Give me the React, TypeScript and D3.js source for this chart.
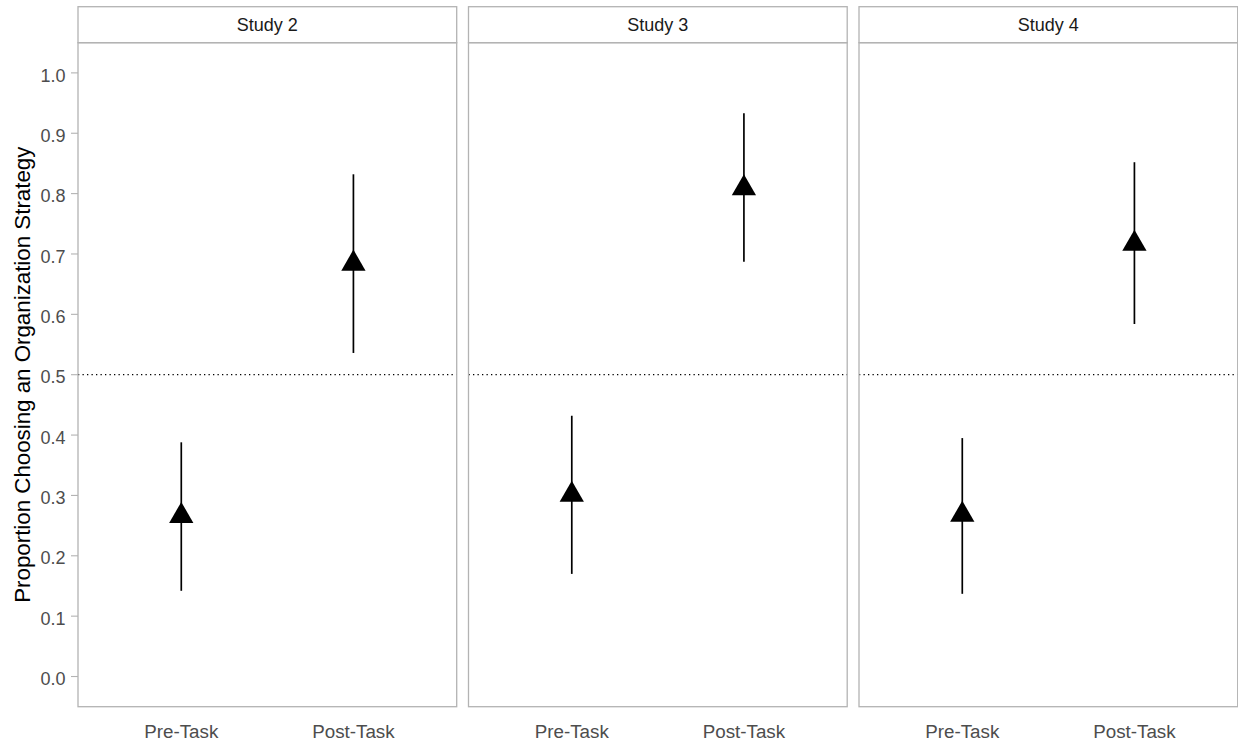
import React from "react";
import * as d3 from "d3";

const studies = ["Study 2", "Study 3", "Study 4"];
const conditions = ["Pre-Task", "Post-Task"];
const preMean = [0.266, 0.301, 0.268];
const preLower = [0.142, 0.17, 0.137];
const preUpper = [0.388, 0.432, 0.395];
const postMean = [0.684, 0.809, 0.717];
const postLower = [0.536, 0.687, 0.584];
const postUpper = [0.832, 0.933, 0.852];
const yTicks = [0, 0.1, 0.2, 0.3, 0.4, 0.5, 0.6, 0.7, 0.8, 0.9, 1.0];
const refLine = 0.5;

const W = 1238;
const H = 740;
const panelTop = 42.7;
const panelBottom = 706.7;
const stripTop = 6.7;
const panelLeft0 = 78;
const panelW = 378.7;
const gap = 11.8;
const font = "'Liberation Sans', Arial, Helvetica, sans-serif";

export default function App() {
  const y = d3.scaleLinear().domain([-0.05, 1.05]).range([panelBottom, panelTop]);
  const tri = d3.symbol().type(d3.symbolTriangle).size(255)() as string;
  const rows = studies.map((s, i) => [
    { cond: conditions[0], m: preMean[i], lo: preLower[i], hi: preUpper[i] },
    { cond: conditions[1], m: postMean[i], lo: postLower[i], hi: postUpper[i] },
  ]);
  return (
    <svg
      width={W}
      height={H}
      style={{ position: "absolute", left: 0, top: 0, background: "#fff" }}
      fontFamily={font}
    >
      <rect x={0} y={0} width={W} height={H} fill="#fff" />
      {/* y axis title */}
      <text
        transform={`translate(22,${(panelTop + panelBottom) / 2}) rotate(-90)`}
        textAnchor="middle"
        dominantBaseline="central"
        fontSize={22.3}
        fill="#000"
      >
        Proportion Choosing an Organization Strategy
      </text>
      {/* y ticks */}
      {yTicks.map((t) => (
        <g key={t}>
          <line x1={71} x2={panelLeft0} y1={y(t)} y2={y(t)} stroke="#b3b3b3" strokeWidth={1.1} />
          <text x={65.5} y={y(t)} dy="0.48em" textAnchor="end" fontSize={18} fill="#4d4d4d">
            {d3.format(".1f")(t)}
          </text>
        </g>
      ))}
      {studies.map((s, i) => {
        const left = panelLeft0 + i * (panelW + gap);
        const x = d3.scalePoint<string>().domain(conditions).range([left, left + panelW]).padding(0.6);
        return (
          <g key={s}>
            {/* strip */}
            <rect
              x={left}
              y={stripTop}
              width={panelW}
              height={panelTop - stripTop}
              fill="#fff"
              stroke="#b3b3b3"
              strokeWidth={1.3}
            />
            <text
              x={left + panelW / 2}
              y={(stripTop + panelTop) / 2}
              dy="0.36em"
              textAnchor="middle"
              fontSize={18}
              fill="#1a1a1a"
            >
              {s}
            </text>
            {/* reference line */}
            <line
              x1={left}
              x2={left + panelW}
              y1={y(refLine)}
              y2={y(refLine)}
              stroke="#000"
              strokeWidth={1.3}
              strokeDasharray="1.3 3.2"
            />
            {rows[i].map((r) => (
              <g key={r.cond}>
                <line
                  x1={x(r.cond)}
                  x2={x(r.cond)}
                  y1={y(r.lo)}
                  y2={y(r.hi)}
                  stroke="#000"
                  strokeWidth={1.7}
                />
                <path d={tri} transform={`translate(${x(r.cond)},${y(r.m)})`} fill="#000" />
              </g>
            ))}
            {/* panel border */}
            <rect
              x={left}
              y={panelTop}
              width={panelW}
              height={panelBottom - panelTop}
              fill="none"
              stroke="#b3b3b3"
              strokeWidth={1.3}
            />
            {/* x labels */}
            {conditions.map((c) => (
              <text key={c} x={x(c)} y={737.5} textAnchor="middle" fontSize={18.8} fill="#4d4d4d">
                {c}
              </text>
            ))}
          </g>
        );
      })}
    </svg>
  );
}
